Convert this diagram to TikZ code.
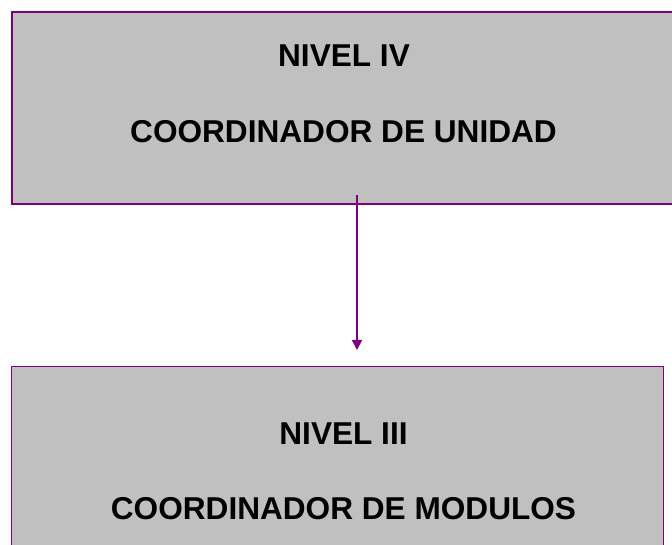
\documentclass[tikz,border=0pt]{standalone}
\usepackage{fontspec}
\setmainfont{Liberation Sans}
\usetikzlibrary{arrows.meta}
\definecolor{nivelgris}{HTML}{C0C0C0}
\definecolor{nivelmorado}{HTML}{800080}
\tikzset{nivel/.style={draw=nivelmorado, fill=nivelgris, inner sep=0pt, anchor=north west},
         titulo/.style={font=\fontsize{23.7}{28}\selectfont\bfseries, inner sep=0pt, anchor=base},
         enlace/.style={draw=nivelmorado, line width=1.1pt,
                        -{Triangle[length=7.5pt,width=7.5pt]}}}
\begin{document}
\begin{tikzpicture}[x=0.75pt,y=-0.75pt]
		\path[use as bounding box, clip] (0,0) rectangle (672,545);
		% nivel iv
		\node [nivel, line width=1.5pt, minimum width=499.5pt, minimum height=144pt] (unidad) at (11,11) {};
		\node [titulo] (n4) at (344,67) {NIVEL IV};
		\node [titulo] (c4) at (343.5,143) {COORDINADOR DE UNIDAD};
		% nivel iii
		\node [nivel, line width=0.75pt, minimum width=489pt, minimum height=150pt] (modulos) at (11,366) {};
		\node [titulo] (n3) at (343.5,445) {NIVEL III};
		\node [titulo] (c3) at (343.5,520) {COORDINADOR DE MODULOS};
		\coordinate (desde) at (357,195);
		\coordinate (hasta) at (357,350);
		\draw [enlace] (desde) -- (hasta);
	\end{tikzpicture}
\end{document}
